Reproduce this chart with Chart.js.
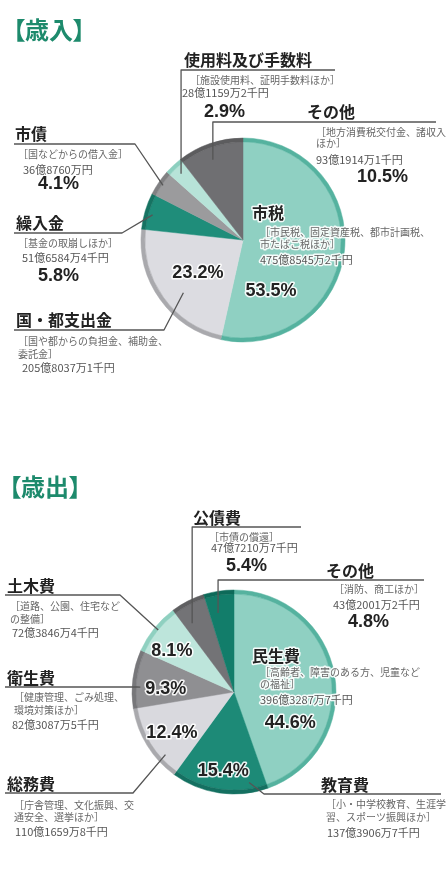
<!DOCTYPE html>
<html lang="ja">
<head>
<meta charset="UTF-8">
<title>歳入・歳出</title>
<script src="https://cdn.jsdelivr.net/npm/chart.js@4"></script>
<style>
  body { margin: 0; background: #fff; }
  #page { position: relative; width: 448px; height: 879px; overflow: hidden; font-family: "Noto Sans CJK JP", sans-serif; }
  canvas { position: absolute; left: 0; }
  h1 { position: absolute; margin: 0; font-size: 24px; line-height: 1; font-weight: bold; color: #1d8a6c; font-feature-settings: "palt"; }
</style>
</head>
<body>
<div id="page">
  <canvas id="revChart" width="448" height="460" style="top:0"></canvas>
  <canvas id="expChart" width="448" height="419" style="top:460px"></canvas>
  <h1 style="left:13px;top:17px">【歳入】</h1>
  <h1 style="left:9px;top:474px">【歳出】</h1>
</div>

<script>
// 歳入 (revenue)
const revLabels = ['市税', '国・都支出金', '繰入金', '市債', '使用料及び手数料', 'その他'];
const revShares = [53.5, 23.2, 5.8, 4.1, 2.9, 10.5];
const revNotes = [
  '［市民税、固定資産税、都市計画税、\n市たばこ税ほか］',
  '［国や都からの負担金、補助金、\n委託金］',
  '［基金の取崩しほか］',
  '［国などからの借入金］',
  '［施設使用料、証明手数料ほか］',
  '［地方消費税交付金、諸収入\nほか］'
];
const revAmounts = ['475億8545万2千円', '205億8037万1千円', '51億6584万4千円', '36億8760万円', '28億1159万2千円', '93億1914万1千円'];

// 歳出 (expenditure)
const expLabels = ['民生費', '教育費', '総務費', '衛生費', '土木費', '公債費', 'その他'];
const expShares = [44.6, 15.4, 12.4, 9.3, 8.1, 5.4, 4.8];
const expNotes = [
  '［高齢者、障害のある方、児童など\nの福祉］',
  '［小・中学校教育、生涯学\n習、スポーツ振興ほか］',
  '［庁舎管理、文化振興、交\n通安全、選挙ほか］',
  '［健康管理、ごみ処理、\n環境対策ほか］',
  '［道路、公園、住宅など\nの整備］',
  '［市債の償還］',
  '［消防、商工ほか］'
];
const expAmounts = ['396億3287万7千円', '137億3906万7千円', '110億1659万8千円', '82億3087万5千円', '72億3846万4千円', '47億7210万7千円', '43億2001万2千円'];

// colours (fill / outer rim)
const revColors = ['#8fd0c2', '#dcdce1', '#1f8d7a', '#9b9b9d', '#b7e3d8', '#6f6f72'];
const revRims   = ['#55b29f', '#a9a9ad', '#167362', '#808082', '#8ccfbf', '#5c5c5e'];
const expColors = ['#8fd0c2', '#1d8a77', '#d9d9de', '#8f8f92', '#bde5db', '#737376', '#127d6a'];
const expRims   = ['#55b29f', '#147061', '#a9a9ad', '#77777a', '#8fd0c0', '#5f5f61', '#0d6a59'];

// label placement (page coordinates). frac/rf = where the leader touches the slice
const revLayout = [
  { kind: 'in', tx: 252, ty: 213, nx: 260, ny: [232, 244], ax: 260, ay: 260, pf: 0.785, pr: 0.57 },
  { kind: 'elbowR', frac: 0.43, rf: 0.78, ux1: 14, ux2: 164, uy: 330, tx: 16, ty: 320, nx: 18, ny: [341, 354], ax: 22, ay: 368, pf: 0.49, pr: 0.55 },
  { kind: 'elbowR', frac: 0.45, rf: 0.92, ux1: 14, ux2: 122, uy: 233, tx: 16, ty: 223, nx: 18, ny: [243], ax: 22, ay: 258, px: 38, py: 276 },
  { kind: 'elbowR', frac: 0.5, rf: 0.95, ux1: 14, ux2: 135, uy: 144, tx: 15, ty: 134, nx: 18, ny: [154], ax: 23, ay: 170, px: 38, py: 184 },
  { kind: 'down', frac: 0.5, rf: 0.89, ux2: 335, uy: 70, tx: 184, ty: 60, nx: 190, ny: [80], ax: 182, ay: 93, px: 204, py: 112 },
  { kind: 'down', frac: 0.455, rf: 0.84, ux2: 436, uy: 122, tx: 307, ty: 112, nx: 316, ny: [132, 143], ax: 316, ay: 160, px: 357, py: 177 }
];
const expLayout = [
  { kind: 'in', tx: 252, ty: 656, nx: 260, ny: [672, 684], ax: 260, ay: 700, pf: 0.74, pr: 0.63 },
  { kind: 'elbowL', frac: 0.18, rf: 0.9, ux1: 264, ux2: 441, uy: 794, tx: 321, ty: 785, nx: 326, ny: [804, 817], ax: 327, ay: 833, pf: 0.49, pr: 0.78 },
  { kind: 'elbowR', frac: 0.26, rf: 0.91, ux1: 5, ux2: 133, uy: 793, tx: 7, ty: 784, nx: 14, ny: [805, 817], ax: 15, ay: 832, pf: 0.46, pr: 0.73 },
  { kind: 'elbowR', frac: 0.37, rf: 0.92, ux1: 5, ux2: 137, uy: 687, tx: 7, ty: 678, nx: 14, ny: [697, 710], ax: 12, ay: 725, pf: 0.35, pr: 0.67 },
  { kind: 'elbowR', frac: 0.52, rf: 0.96, ux1: 5, ux2: 120, uy: 595, tx: 7, ty: 586, nx: 10, ny: [606, 619], ax: 12, ay: 633, pf: 0.32, pr: 0.73 },
  { kind: 'down', frac: 0.28, rf: 0.79, ux2: 301, uy: 527, tx: 193, ty: 518, nx: 209, ny: [537], ax: 211, ay: 548, px: 226, py: 566 },
  { kind: 'down', frac: 0.34, rf: 0.79, ux2: 424, uy: 580, tx: 326, ty: 571, nx: 334, ny: [589], ax: 333, ay: 605, px: 348, py: 622 }
];

const TITLE_FONT = 'bold 16px "Noto Sans CJK JP"';
const NOTE_FONT = '10px "Noto Sans CJK JP"';
const AMOUNT_FONT = '11px "Noto Sans CJK JP"';
const PCT_FONT = 'bold 18px "Liberation Sans", Arial, sans-serif';

// draws the titles, notes, percentages and leader lines for one pie
function labelPlugin(top, labels, shares, notes, amounts, layout) {
  return {
    id: 'sliceLabels',
    afterDraw(chart) {
      const ctx = chart.ctx;
      const arcs = chart.getDatasetMeta(1).data;
      const R = chart.getDatasetMeta(0).data[0].outerRadius;
      const at = (i, frac, rf) => {
        const a = arcs[i];
        const ang = a.startAngle + frac * (a.endAngle - a.startAngle);
        return { x: a.x + Math.cos(ang) * R * rf, y: a.y + Math.sin(ang) * R * rf };
      };
      const text = (s, x, y, font, color, halo) => {
        ctx.font = font;
        if (halo) {
          ctx.lineJoin = 'round';
          ctx.lineWidth = 3;
          ctx.strokeStyle = 'rgba(255,255,255,0.9)';
          ctx.strokeText(s, x, y);
        }
        ctx.fillStyle = color;
        ctx.fillText(s, x, y);
      };

      ctx.save();
      ctx.textBaseline = 'middle';
      layout.forEach((L, i) => {
        const inside = L.kind === 'in';

        // underline + leader
        if (!inside) {
          const p = at(i, L.frac, L.rf);
          const uy = L.uy - top;
          ctx.strokeStyle = '#555';
          ctx.lineWidth = 1.3;
          ctx.beginPath();
          if (L.kind === 'down') {
            ctx.moveTo(L.ux2, uy);
            ctx.lineTo(p.x, uy);
            ctx.lineTo(p.x, p.y);
          } else if (L.kind === 'elbowR') {
            ctx.moveTo(L.ux1, uy);
            ctx.lineTo(L.ux2, uy);
            ctx.lineTo(p.x, p.y);
          } else {
            ctx.moveTo(L.ux2, uy);
            ctx.lineTo(L.ux1, uy);
            ctx.lineTo(p.x, p.y);
          }
          ctx.stroke();
        }

        ctx.textAlign = 'left';
        text(labels[i], L.tx, L.ty - top, TITLE_FONT, '#222', inside);
        notes[i].split('\n').forEach((line, k) => {
          text(line, L.nx, L.ny[k] - top, NOTE_FONT, '#666', inside);
        });
        text(amounts[i], L.ax, L.ay - top, AMOUNT_FONT, '#555', inside);

        const pct = shares[i].toFixed(1) + '%';
        if (L.px !== undefined) {
          text(pct, L.px, L.py - top, PCT_FONT, '#222', false);
        } else {
          const c = at(i, L.pf, L.pr);
          ctx.textAlign = 'center';
          text(pct, c.x, c.y, PCT_FONT, '#222', true);
        }
      });
      ctx.restore();
    }
  };
}

function makePie(id, top, padding, labels, shares, colors, rims, notes, amounts, layout) {
  return new Chart(document.getElementById(id), {
    type: 'pie',
    data: {
      labels: labels,
      datasets: [
        // thin darker rim on the outside
        { data: shares, backgroundColor: rims, borderColor: rims, borderWidth: 0.5, weight: 0.04 },
        { data: shares, backgroundColor: colors, borderColor: colors, borderWidth: 0.5, weight: 1 }
      ]
    },
    options: {
      responsive: false,
      animation: false,
      radius: 102,
      hoverOffset: 0,
      layout: { padding: padding },
      plugins: { legend: { display: false }, tooltip: { enabled: false } },
      events: []
    },
    plugins: [labelPlugin(top, labels, shares, notes, amounts, layout)]
  });
}

makePie('revChart', 0, { left: 38, right: 0, top: 20, bottom: 0 },
  revLabels, revShares, revColors, revRims, revNotes, revAmounts, revLayout);
makePie('expChart', 460, { left: 20, right: 0, top: 45, bottom: 0 },
  expLabels, expShares, expColors, expRims, expNotes, expAmounts, expLayout);
</script>
</body>
</html>
